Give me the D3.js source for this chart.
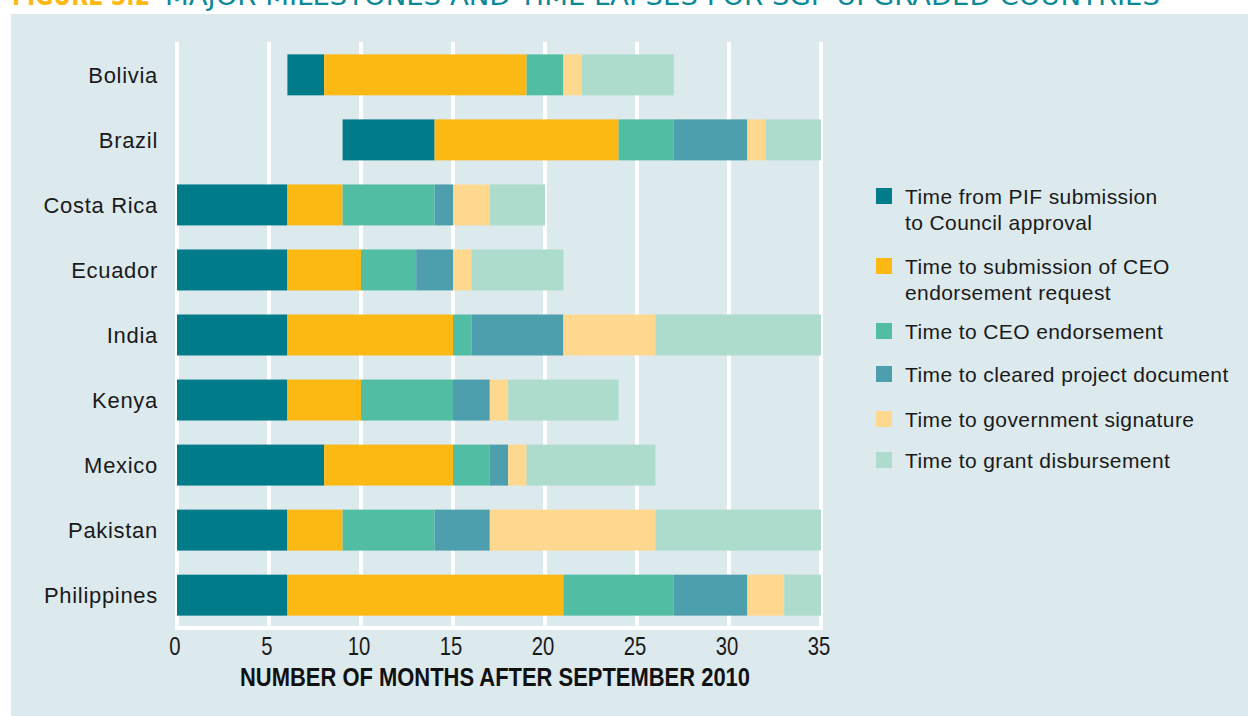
<!DOCTYPE html>
<html>
<head>
<meta charset="utf-8">
<script src="https://cdn.jsdelivr.net/npm/d3@7"></script>
<style>
  html, body { margin: 0; padding: 0; background: #ffffff; }
  svg { display: block; }
</style>
</head>
<body>
<div id="chart"></div>
<script>
// values (months)
const countries = ["Bolivia", "Brazil", "Costa Rica", "Ecuador", "India", "Kenya", "Mexico", "Pakistan", "Philippines"];
const startMonth      = [6, 9, 0, 0, 0, 0, 0, 0, 0];
const pifToCouncil    = [2, 5, 6, 6, 6, 6, 8, 6, 6];
const toCeoRequest    = [11, 10, 3, 4, 9, 4, 7, 3, 15];
const toCeoEndorse    = [2, 3, 5, 3, 1, 5, 2, 5, 6];
const toClearedDoc    = [0, 4, 1, 2, 5, 2, 1, 3, 4];
const toGovSignature  = [1, 1, 2, 1, 5, 1, 1, 9, 2];
const toDisbursement  = [5, 3, 3, 5, 9, 6, 7, 9, 2];
const xTicks = [0, 5, 10, 15, 20, 25, 30, 35];

const seriesNames = [
    ["Time from PIF submission", "to Council approval"],
    ["Time to submission of CEO", "endorsement request"],
    ["Time to CEO endorsement"],
    ["Time to cleared project document"],
    ["Time to government signature"],
    ["Time to grant disbursement"]
];
const seriesColors = ["#007b8a", "#fdb913", "#51bea4", "#4e9fad", "#ffd88f", "#addccd"];

const width = 1248, height = 716;
const keys = ["start", "s0", "s1", "s2", "s3", "s4", "s5"];
const table = countries.map((c, i) => ({
    country: c,
    start: startMonth[i],
    s0: pifToCouncil[i],
    s1: toCeoRequest[i],
    s2: toCeoEndorse[i],
    s3: toClearedDoc[i],
    s4: toGovSignature[i],
    s5: toDisbursement[i]
}));

const svg = d3.select("#chart").append("svg")
    .attr("width", width)
    .attr("height", height);

// panel background
svg.append("rect")
    .attr("x", 11).attr("y", 14)
    .attr("width", width - 11).attr("height", height - 14)
    .attr("fill", "#dce9ed");

// title, cut off at the top as in the source
const narrowFont = "'Liberation Sans Narrow', 'DejaVu Sans Condensed', sans-serif";
svg.append("text")
    .attr("x", 12).attr("y", 5)
    .attr("font-family", narrowFont)
    .attr("font-weight", "bold")
    .attr("font-size", 27)
    .attr("fill", "#fdb913")
    .attr("textLength", 138)
    .attr("lengthAdjust", "spacingAndGlyphs")
    .text("FIGURE 3.2");
svg.append("text")
    .attr("x", 165).attr("y", 5)
    .attr("font-family", narrowFont)
    .attr("font-size", 27)
    .attr("fill", "#0b8a96")
    .attr("textLength", 995)
    .attr("lengthAdjust", "spacingAndGlyphs")
    .text("MAJOR MILESTONES AND TIME LAPSES FOR SGP UPGRADED COUNTRIES");

const x = d3.scaleLinear()
    .domain([0, 35])
    .range([177, 821]);

const y = d3.scaleBand()
    .domain(countries)
    .range([42, 628])
    .paddingInner(0.37)
    .paddingOuter(0.19);

// white grid
svg.append("g")
    .selectAll("line")
    .data(xTicks)
    .join("line")
    .attr("x1", d => x(d)).attr("x2", d => x(d))
    .attr("y1", 42).attr("y2", 628)
    .attr("stroke", "#ffffff")
    .attr("stroke-width", 4);
svg.append("line")
    .attr("x1", x(0) - 2).attr("x2", x(35) + 2)
    .attr("y1", 628).attr("y2", 628)
    .attr("stroke", "#ffffff")
    .attr("stroke-width", 4);

const stacked = d3.stack().keys(keys)(table);

svg.append("g")
    .selectAll("g")
    .data(stacked.slice(1))
    .join("g")
    .attr("fill", (d, i) => seriesColors[i])
    .selectAll("rect")
    .data(d => d)
    .join("rect")
    .attr("x", d => x(d[0]))
    .attr("y", d => y(d.data.country))
    .attr("width", d => x(d[1]) - x(d[0]))
    .attr("height", y.bandwidth());

// country labels
const labelFont = "'Liberation Sans', Arial, sans-serif";
svg.append("g")
    .selectAll("text")
    .data(countries)
    .join("text")
    .attr("x", 158)
    .attr("y", d => y(d) + y.bandwidth() / 2)
    .attr("dy", "0.35em")
    .attr("text-anchor", "end")
    .attr("font-family", labelFont)
    .attr("font-size", 22)
    .attr("letter-spacing", 0.7)
    .attr("fill", "#1a1a1a")
    .text(d => d);

// x axis tick labels, squeezed to a condensed look
svg.append("g")
    .selectAll("text")
    .data(xTicks)
    .join("text")
    .attr("transform", d => `translate(${x(d) - 2},655) scale(0.78,1)`)
    .attr("text-anchor", "middle")
    .attr("font-family", labelFont)
    .attr("font-size", 26)
    .attr("fill", "#1a1a1a")
    .text(d => d);

svg.append("text")
    .attr("x", 240)
    .attr("y", 686)
    .attr("font-family", labelFont)
    .attr("font-weight", "bold")
    .attr("font-size", 26)
    .attr("fill", "#111111")
    .attr("textLength", 510)
    .attr("lengthAdjust", "spacingAndGlyphs")
    .text("NUMBER OF MONTHS AFTER SEPTEMBER 2010");

// legend
const legendTop = [196, 266, 331, 374, 419, 460];
const legend = svg.append("g")
    .selectAll("g")
    .data(seriesNames)
    .join("g")
    .attr("transform", (d, i) => `translate(876,${legendTop[i]})`);

legend.append("rect")
    .attr("x", 0).attr("y", -8)
    .attr("width", 16).attr("height", 16)
    .attr("fill", (d, i) => seriesColors[i]);

legend.append("text")
    .attr("x", 29)
    .attr("font-family", labelFont)
    .attr("font-size", 21)
    .attr("letter-spacing", 0.4)
    .attr("fill", "#1a1a1a")
    .selectAll("tspan")
    .data(d => d)
    .join("tspan")
    .attr("x", 29)
    .attr("y", (d, i) => i * 26)
    .attr("dy", "0.36em")
    .text(d => d);
</script>
</body>
</html>
